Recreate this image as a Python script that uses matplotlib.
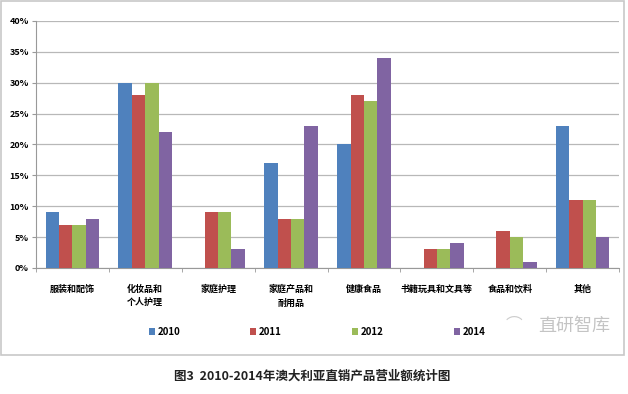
import numpy as np
import matplotlib.pyplot as plt
from matplotlib.patches import Rectangle

plt.rcParams['font.family'] = ['Noto Sans CJK SC', 'DejaVu Sans']

categories = ['服装和配饰', '化妆品和\n个人护理', '家庭护理', '家庭产品和\n耐用品',
              '健康食品', '书籍玩具和文具等', '食品和饮料', '其他']
years = ['2010', '2011', '2012', '2014']
v2010 = [9, 30, 0, 17, 20, 0, 0, 23]
v2011 = [7, 28, 9, 8, 28, 3, 6, 11]
v2012 = [7, 30, 9, 8, 27, 3, 5, 11]
v2014 = [8, 22, 3, 23, 34, 4, 1, 5]
series = [v2010, v2011, v2012, v2014]
colors = ['#4F81BD', '#C0504D', '#9BBB59', '#8064A2']

fig = plt.figure(figsize=(6.28, 3.94), dpi=100)
ax = fig.add_axes([0.057, 0.320, 0.929, 0.627])

x = np.arange(len(categories))
w = 0.183
for i, (vals, c, yr) in enumerate(zip(series, colors, years)):
    ax.bar(x + (i - 1.5) * w, vals, width=w, color=c, label=yr, zorder=3)

ax.set_xlim(-0.5, len(categories) - 0.5)
ax.set_ylim(0, 40)
ax.set_yticks(range(0, 41, 5))
ax.set_yticklabels([f'{t}%' for t in range(0, 41, 5)], fontsize=6.5, fontweight='bold')
ax.yaxis.grid(True, color='#b8b8b8', linewidth=0.9, zorder=0)
ax.tick_params(axis='y', length=3, color='#999999', pad=2)

ax.set_xticks(x)
ax.set_xticklabels(categories, fontsize=6.5, fontweight='bold', linespacing=1.6)
ax.set_xticks(np.arange(-0.5, len(categories)), minor=True)
ax.tick_params(axis='x', which='major', length=0, pad=12)
ax.tick_params(axis='x', which='minor', length=3, color='#999999')

for s in ['top', 'right']:
    ax.spines[s].set_visible(False)
for s in ['left', 'bottom']:
    ax.spines[s].set_color('#999999')

leg = fig.legend(loc='center', bbox_to_anchor=(0.505, 0.157), ncol=4, frameon=False,
                 handlelength=0.6, handleheight=0.8, handletextpad=0.3,
                 columnspacing=7.2, prop={'weight': 'bold', 'size': 7})

# watermark
fig.text(0.915, 0.172, '直研智库', fontsize=13, color='#c4c4c4', ha='center', va='center')
fig.text(0.818, 0.175, '⌒', fontsize=12, color='#cccccc', ha='center', va='center')

fig.patches.append(Rectangle((0.002, 0.099), 0.991, 0.899, transform=fig.transFigure,
                             fill=False, edgecolor='#c8c8c8', linewidth=1.2))

fig.text(0.497, 0.046, '图3  2010-2014年澳大利亚直销产品营业额统计图', fontsize=9,
         fontweight='bold', ha='center', va='center', color='#222222')

fig.savefig('out.png', dpi=100)
